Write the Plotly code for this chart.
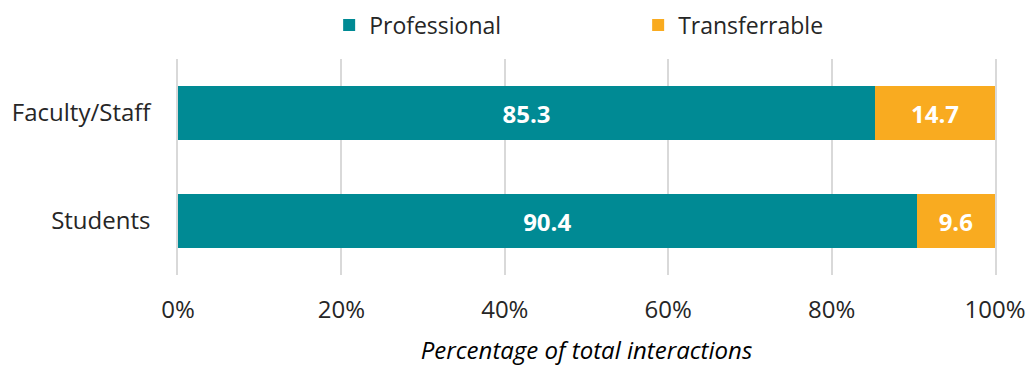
import plotly.graph_objects as go

# Share of interactions by type, per group
groups = ["Students", "Faculty/Staff"]
professional = [90.4, 85.3]
transferrable = [9.6, 14.7]

TEAL = "#008A94"
ORANGE = "#F9AB20"
GRID = "#D9D9D9"
FONT = "Open Sans"

fig = go.Figure()
fig.add_trace(go.Bar(
    y=groups, x=professional, orientation="h", name="Professional",
    marker=dict(color=TEAL, line=dict(width=0)),
    text=[f"{v:.1f}" for v in professional], textposition="inside",
    insidetextanchor="middle",
    textfont=dict(color="white", size=24, family=FONT, weight="bold"),
))
fig.add_trace(go.Bar(
    y=groups, x=transferrable, orientation="h", name="Transferrable",
    marker=dict(color=ORANGE, line=dict(width=0)),
    text=[f"{v:.1f}" for v in transferrable], textposition="inside",
    insidetextanchor="middle",
    textfont=dict(color="white", size=24, family=FONT, weight="bold"),
))

fig.update_layout(
    barmode="stack",
    bargap=0.5,
    width=1027, height=366,
    margin=dict(l=178, r=32, t=59, b=91, autoexpand=False),
    plot_bgcolor="white", paper_bgcolor="white",
    font=dict(family=FONT, size=23, color="#262626"),
    uniformtext=dict(minsize=8, mode="show"),
    legend=dict(
        orientation="h", x=0.185, xanchor="left", y=0.99, yanchor="top",
        yref="container", font=dict(size=23), itemwidth=30,
        traceorder="normal", entrywidthmode="pixels", entrywidth=264,
    ),
    xaxis=dict(
        range=[0, 100], dtick=20, ticksuffix="%", automargin=False,
        showgrid=True, gridcolor=GRID, gridwidth=1.5,
        zeroline=False, showline=False, ticks="",
        tickfont=dict(size=24), ticklabelstandoff=18,
        title=dict(text="<i>Percentage of total interactions</i>",
                   font=dict(size=24, color="#000000"), standoff=23),
    ),
    yaxis=dict(
        showgrid=False, zeroline=False, ticks="", automargin=False,
        showline=True, mirror=True, linecolor=GRID, linewidth=1.5,
        tickfont=dict(size=24), ticklabelstandoff=21,
        range=[-0.5, 1.5],
    ),
)

fig.write_html("out.html")
